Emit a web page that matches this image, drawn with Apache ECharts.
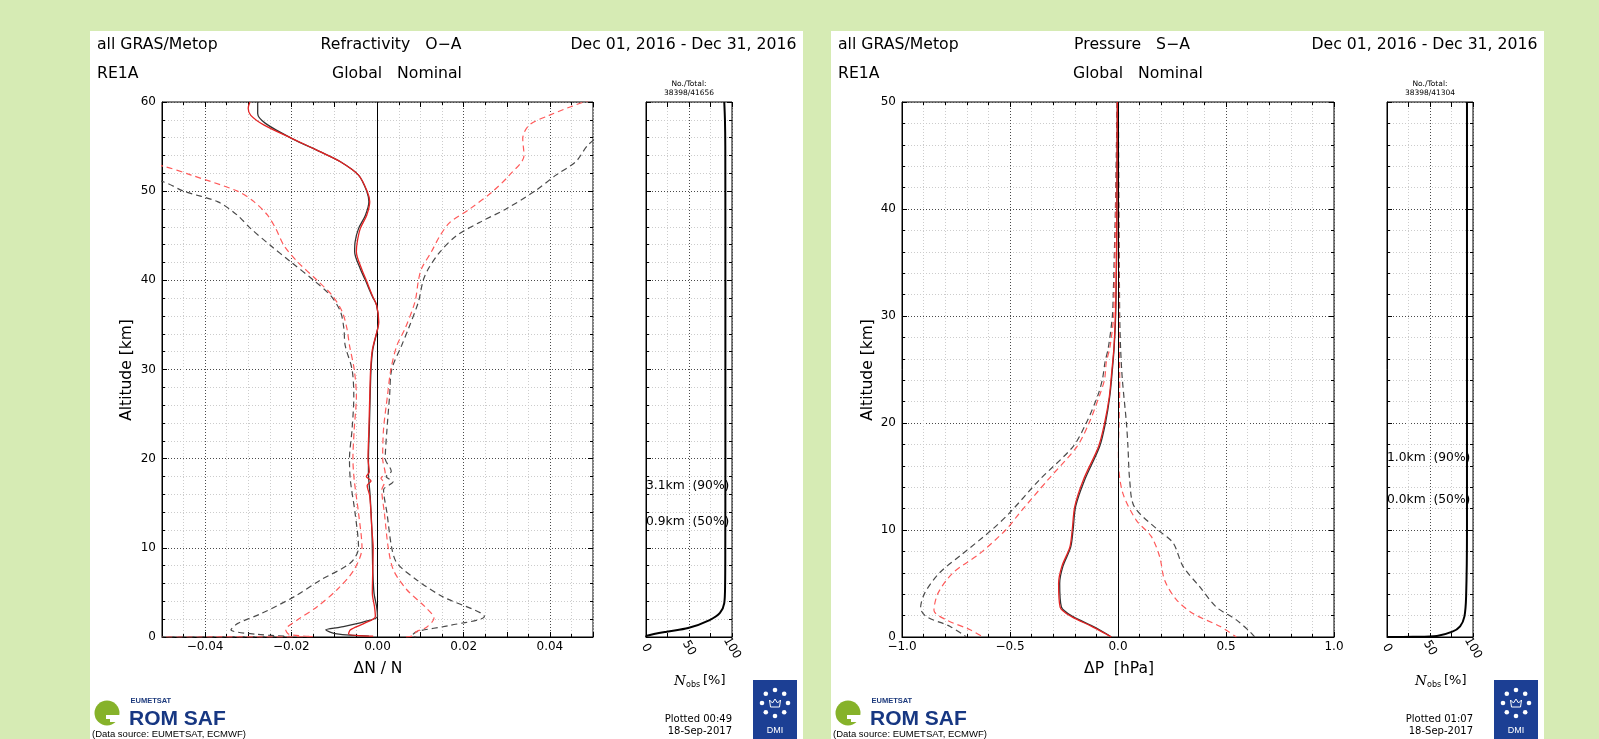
<!DOCTYPE html>
<html><head><meta charset="utf-8">
<script src="https://cdn.jsdelivr.net/npm/echarts@6.0.0/dist/echarts.min.js"></script>
<style>
html,body{margin:0;padding:0;background:#d6ebb4;width:1599px;height:739px;overflow:hidden;}
.panel{position:absolute;top:31px;height:708px;background:#fff;}
#chart{position:absolute;left:0;top:0;width:1599px;height:739px;}
</style></head><body>
<div class="panel" style="left:90px;width:713px"></div>
<div class="panel" style="left:831px;width:713px"></div>
<div id="chart"></div>
<script>
// ===== Refractivity O−A (left panel): altitude [km] vs ΔN/N =====
const refBlkMeanAlt = [60,58.7,57.6,55.9,54.4,53.3,51.8,50,48.8,47.3,45.8,44.3,43.2,41.3,40,38.3,37.2,35.3,34.5,32.2,30,27,23.3,20,18.4,15.8,12,10,7.5,4.9,3.4,2.3,1.7,1.1,0.8,0.35,0.1];
const refBlkMean    = [-0.0278,-0.0278,-0.026,-0.0198,-0.0132,-0.0086,-0.0044,-0.0025,-0.002,-0.0028,-0.0044,-0.0052,-0.0053,-0.004,-0.0028,-0.0013,-0.0002,0.0002,0,-0.0011,-0.0015,-0.0017,-0.0019,-0.0021,-0.0021,-0.0017,-0.0013,-0.0012,-0.0011,-0.0008,-0.0002,0,-0.0032,-0.0086,-0.012,-0.0094,-0.002];
const refRedMeanAlt = [60,59.3,58.5,57.4,55.9,54.4,53.3,51.8,50,48.8,47.3,45.8,44.3,43.2,41.3,40,38.3,37.2,35.3,34.5,32.2,30,27,23.3,20,18.5,18,17.5,17,15.8,12,10,7.5,4.9,3.4,2.3,1.5,0.8,0.35,0.1];
const refRedMean    = [-0.0296,-0.030,-0.0294,-0.0263,-0.0198,-0.0132,-0.0086,-0.0044,-0.0024,-0.0018,-0.0025,-0.004,-0.0047,-0.0049,-0.0037,-0.0026,-0.0012,-0.0002,0.0003,0,-0.0012,-0.0016,-0.0018,-0.002,-0.0022,-0.0019,-0.0026,-0.0015,-0.0024,-0.0018,-0.0013,-0.001,-0.0011,-0.0012,-0.0007,-0.0005,-0.0032,-0.0063,-0.0067,-0.001];
const refBlkLoAlt = [52.5,51,50,48.8,47.3,45.8,43.9,42.1,40,38.3,36.5,34.6,32.7,30,27,23.3,20,17.6,13.9,10,8.3,6.4,4.5,2.6,1.5,0.8,0.3,0.05,0];
const refBlkLo    = [-0.062,-0.0494,-0.045,-0.037,-0.0325,-0.0294,-0.0248,-0.0202,-0.0148,-0.0109,-0.0086,-0.0078,-0.0075,-0.0059,-0.0055,-0.0059,-0.0065,-0.0063,-0.0052,-0.0044,-0.0063,-0.0132,-0.0194,-0.0271,-0.0325,-0.034,-0.028,-0.02,-0.05];
const refRedLoAlt = [53.5,52.8,51.8,50,48.8,47.3,45.8,43.9,42.1,40,38.3,36.5,34.6,32.7,30,27,23.3,20,17.6,13.9,10,7.5,5.3,3.4,1.9,0.8,0.3,0.05,0];
const refRedLo    = [-0.058,-0.0497,-0.0432,-0.0325,-0.0286,-0.0255,-0.0236,-0.0217,-0.0186,-0.014,-0.0105,-0.0082,-0.0071,-0.0065,-0.0054,-0.0049,-0.0054,-0.0057,-0.0054,-0.0044,-0.0036,-0.0055,-0.0094,-0.014,-0.0186,-0.0213,-0.0205,-0.015,-0.05];
const refRedHiAlt = [60.5,60,58.5,57.4,55.9,54,51.8,50,48,46.5,45,43.2,41.3,40,37.6,34.6,32.7,30,27,23.3,20,18.3,17.8,17.3,16.5,13.9,10,7.5,5.3,3.4,2.1,1.1,0.6,0.1,0];
const refRedHi    = [0.052,0.0479,0.0398,0.0352,0.0337,0.034,0.0306,0.0268,0.0214,0.0168,0.0145,0.0125,0.0102,0.0095,0.0087,0.0064,0.0045,0.0031,0.0023,0.0014,0.0012,0.0018,0.0008,0.0016,0.001,0.0016,0.0025,0.0037,0.0068,0.011,0.0131,0.0114,0.009,0.008,0.006];
const refBlkHiAlt = [56.5,55.1,53.3,51.8,50,48,46.5,45,43.2,41.3,40,37.6,34.6,32.7,30,27,23.3,20,18.6,18,17.4,16.5,13.9,10,8.3,6.4,4.5,2.3,1.3,0.6,0.1,0];
const refBlkHi    = [0.052,0.0487,0.046,0.0414,0.0365,0.0298,0.0237,0.0183,0.0145,0.0118,0.0106,0.0095,0.0072,0.0056,0.0033,0.0028,0.0022,0.0018,0.0032,0.002,0.0036,0.0014,0.0022,0.0033,0.0045,0.0091,0.0152,0.0248,0.0168,0.0091,0.008,0.009];
const nobsRefAlt = [60,58,55,40,20,10,6,3.8,2.7,1.9,1,0.6,0.15,0];
const nobsRef    = [91,91.8,92.2,92.3,92.3,92.2,92,91,86,74,49,24,1,0];

// ===== Pressure S−A (right panel): altitude [km] vs ΔP [hPa] =====
const presMeanAlt = [50,45,40,35,30,27,25,22.5,20,17.8,14.7,12.2,10,8.4,6.6,5,2.8,1.9,1,0.3,0];
const presBlkMean = [-0.003,-0.004,-0.005,-0.007,-0.011,-0.018,-0.026,-0.038,-0.058,-0.085,-0.154,-0.196,-0.208,-0.219,-0.255,-0.27,-0.262,-0.208,-0.116,-0.054,-0.031];
const presRedMean = [-0.003,-0.004,-0.005,-0.007,-0.012,-0.019,-0.028,-0.04,-0.062,-0.09,-0.16,-0.2,-0.212,-0.223,-0.26,-0.275,-0.268,-0.215,-0.122,-0.058,-0.031];
const presBlkLoAlt = [50,45,40,35,32,30,27,25.7,24.1,22.6,20,17.8,14.7,11.6,10,7.8,6,4.1,2.7,1.9,1,0];
const presBlkLo    = [-0.004,-0.008,-0.012,-0.018,-0.022,-0.026,-0.045,-0.06,-0.072,-0.093,-0.147,-0.208,-0.363,-0.502,-0.585,-0.718,-0.826,-0.895,-0.914,-0.887,-0.779,-0.702];
const presRedLoAlt = [50,45,40,35,32,30,27,25.7,24.1,22.6,20,17.8,14.7,11.6,10,7.8,6,4.1,2.5,1.6,0.7,0];
const presRedLo    = [-0.003,-0.006,-0.01,-0.015,-0.018,-0.02,-0.038,-0.054,-0.062,-0.085,-0.134,-0.19,-0.324,-0.455,-0.52,-0.64,-0.764,-0.833,-0.852,-0.795,-0.687,-0.625];
const presBlkHiAlt = [50,45,40,35,30,27,24.1,20,17.8,14.7,12.2,10,8.8,6.6,4.7,2.8,1.6,0.5,0];
const presBlkHi    = [0.002,0.003,0.004,0.006,0.008,0.012,0.02,0.039,0.046,0.054,0.075,0.185,0.255,0.301,0.378,0.455,0.548,0.61,0.633];
const presRedHiAlt = [50,45,40,35,30,27,24.1,20,17.8,16,13.4,10.9,9.4,7.5,5.3,3.5,2.2,1,0];
const presRedHi    = [0.001,0.002,0.003,0.004,0.005,0.006,0.008,0.005,0.002,0.003,0.023,0.085,0.154,0.193,0.216,0.27,0.347,0.471,0.548];
const nobsPresAlt = [50,10,3.8,1.9,1,0.5,0.1,0.02,0];
const nobsPres    = [93,93,92,90,85,76,58,30,0];

// ===== Texts =====
const panelTexts = [
  {left:'all GRAS/Metop', sub:'RE1A', title:'Refractivity   O\u2212A', region:'Global   Nominal', date:'Dec 01, 2016 - Dec 31, 2016',
   count:'38398/41656', xname:'\u0394N / N', p90:'3.1km  (90%)', p50:'0.9km  (50%)', plotted:'Plotted 00:49', pdate:'18-Sep-2017'},
  {left:'all GRAS/Metop', sub:'RE1A', title:'Pressure   S\u2212A', region:'Global   Nominal', date:'Dec 01, 2016 - Dec 31, 2016',
   count:'38398/41304', xname:'\u0394P  [hPa]', p90:'1.0km  (90%)', p50:'0.0km  (50%)', plotted:'Plotted 01:07', pdate:'18-Sep-2017'}
];

const C_BLK_MEAN = '#333333', C_RED_MEAN = '#e52222', C_BLK_DASH = '#4a4a4a', C_RED_DASH = '#ff5a5a';
const MAJ = '#4a4a4a', MIN = '#cccccc';
const TICKFONT = 'DejaVu Sans', TXTFONT = 'DejaVu Sans', LOGOFONT = 'Liberation Sans';

function prof(xi, vals, alts, color, width, dash, z) {
  return {type:'line', xAxisIndex:xi, yAxisIndex:xi, data: vals.map((v,i)=>[v, alts[i]]),
    symbol:'none', smooth:0.3, clip:true, silent:true, z:z,
    lineStyle:{color:color, width:width, type: dash ? [6,4] : 'solid'}};
}
const fmtMinus = (v, d) => (v < -1e-9 ? '\u2212' : '') + Math.abs(v).toFixed(d);
const TICK = {show:true, inside:true, length:5, lineStyle:{color:'#000'}};

function yAx(gi, max, labels) {
  return {type:'value', gridIndex:gi, position:'left', min:0, max:max, interval:10,
    axisLine:{show:true, onZero:false, lineStyle:{color:'#000', width:1}},
    axisTick:TICK,
    minorTick:{show:true, splitNumber:5, length:3, lineStyle:{color:'#000'}},
    axisLabel:{show:labels, color:'#000', fontFamily:TICKFONT, fontSize:12, margin:6},
    splitLine:{show:true, lineStyle:{color:MAJ, type:[1,2], width:1}},
    minorSplitLine:{show:true, lineStyle:{color:MIN, type:[1,2], width:1}}};
}
function yRight(gi, max) {
  return {type:'value', gridIndex:gi, position:'right', min:0, max:max, interval:10,
    axisLine:{show:false, onZero:false}, axisTick:TICK,
    minorTick:{show:true, splitNumber:5, length:3, lineStyle:{color:'#000'}},
    axisLabel:{show:false}, splitLine:{show:false}, minorSplitLine:{show:false}};
}
function xAxMain(gi, min, max, interval, minorN, formatter, colors) {
  return {type:'value', gridIndex:gi, position:'bottom', min:min, max:max, interval:interval,
    axisLine:{show:true, onZero:false, lineStyle:{color:'#000', width:1}},
    axisTick:TICK,
    minorTick:{show:true, splitNumber:minorN, length:3, lineStyle:{color:'#000'}},
    axisLabel:{show:true, color:'#000', fontFamily:TICKFONT, fontSize:12, margin:4, formatter:formatter, showMinLabel:true, showMaxLabel:true},
    splitLine:{show:true, showMinLine:true, showMaxLine:true, lineStyle:{color:colors, type:[1,2], width:1}},
    minorSplitLine:{show:true, lineStyle:{color:MIN, type:[1,2], width:1}}};
}
function xTop(gi, min, max, interval, minorN) {
  return {type:'value', gridIndex:gi, position:'top', min:min, max:max, interval:interval,
    axisLine:{show:false, onZero:false}, axisTick:TICK,
    minorTick:{show:minorN > 0, splitNumber:minorN || 5, length:3, lineStyle:{color:'#000'}},
    axisLabel:{show:false}, splitLine:{show:false}, minorSplitLine:{show:false}};
}
function xAxNobs(gi) {
  return {type:'value', gridIndex:gi, position:'bottom', min:0, max:100, interval:25,
    axisLine:{show:true, onZero:false, lineStyle:{color:'#000', width:1}},
    axisTick:{show:true, inside:true, length:4, lineStyle:{color:'#000'}},
    axisLabel:{show:true, color:'#000', fontFamily:TICKFONT, fontSize:12, margin:11, rotate:-60,
      align:'center', verticalAlign:'middle', formatter: v => (v % 50 === 0 ? String(v) : '')},
    splitLine:{show:true, showMinLine:true, showMaxLine:true, lineStyle:{color:[MAJ, MIN], type:[1,2], width:1}}};
}

const grids = [
  {left:162, top:102, width:431, height:535},
  {left:646, top:102, width:86, height:535},
  {left:902, top:102, width:432, height:535},
  {left:1387, top:102, width:86, height:535}
].map(g => Object.assign(g, {show:true, borderColor:'#000', borderWidth:1, backgroundColor:'transparent', containLabel:false}));

const xAxes = [
  xAxMain(0, -0.05, 0.05, 0.01, 2, v => (Math.round(v*1000) % 20 === 0 ? fmtMinus(v, 2) : ''), [MIN, MAJ]),
  xAxNobs(1),
  xAxMain(2, -1, 1, 0.5, 5, v => fmtMinus(v, 1), MAJ),
  xAxNobs(3),
  xTop(0, -0.05, 0.05, 0.01, 2),
  xTop(1, 0, 100, 25, 0),
  xTop(2, -1, 1, 0.5, 5),
  xTop(3, 0, 100, 25, 0)
];
const yAxes = [yAx(0, 60, true), yAx(1, 60, false), yAx(2, 50, true), yAx(3, 50, false),
  yRight(0, 60), yRight(1, 60), yRight(2, 50), yRight(3, 50)];

const zeroLine = {silent:true, symbol:['none','none'], animation:false, label:{show:false},
  lineStyle:{color:'#000', width:1, type:'solid'}, data:[{xAxis:0}]};

const series = [
  prof(0, refBlkLo, refBlkLoAlt, C_BLK_DASH, 1.2, true, 3),
  prof(0, refBlkHi, refBlkHiAlt, C_BLK_DASH, 1.2, true, 3),
  prof(0, refRedLo, refRedLoAlt, C_RED_DASH, 1.2, true, 4),
  prof(0, refRedHi, refRedHiAlt, C_RED_DASH, 1.2, true, 4),
  Object.assign(prof(0, refBlkMean, refBlkMeanAlt, C_BLK_MEAN, 1.3, false, 5), {markLine: zeroLine}),
  prof(0, refRedMean, refRedMeanAlt, C_RED_MEAN, 1.3, false, 6),
  prof(1, nobsRef, nobsRefAlt, '#000', 2, false, 5),
  prof(2, presBlkLo, presBlkLoAlt, C_BLK_DASH, 1.2, true, 3),
  prof(2, presBlkHi, presBlkHiAlt, C_BLK_DASH, 1.2, true, 3),
  prof(2, presRedLo, presRedLoAlt, C_RED_DASH, 1.2, true, 4),
  prof(2, presRedHi, presRedHiAlt, C_RED_DASH, 1.2, true, 4),
  Object.assign(prof(2, presBlkMean, presMeanAlt, C_BLK_MEAN, 1.3, false, 5), {markLine: zeroLine}),
  prof(2, presRedMean, presMeanAlt, C_RED_MEAN, 1.3, false, 6),
  prof(3, nobsPres, nobsPresAlt, '#000', 2, false, 5)
];

function txt(text, x, y, size, align, opts) {
  return Object.assign({type:'text', x:x, y:y, z:100, silent:true,
    style:Object.assign({text:text, x:0, y:0, fill:'#000', fontSize:size, fontFamily:TXTFONT,
      align:align, textAlign:align, verticalAlign:'middle', textVerticalAlign:'middle'}, (opts && opts.style) || {})},
    (opts && opts.el) || {});
}

const graphics = [];
panelTexts.forEach((t, p) => {
  const o = p * 741;
  graphics.push(txt(t.left, 97 + o, 45, 15.7, 'left'));
  graphics.push(txt(t.sub, 97 + o, 73.5, 15.7, 'left'));
  graphics.push(txt(t.title, 391 + o, 45, 15.7, 'center'));
  graphics.push(txt(t.region, 397 + o, 73.5, 15.7, 'center'));
  graphics.push(txt(t.date, 796.5 + o, 45, 15.7, 'right'));
  graphics.push(txt('No./Total:', 689 + o, 84, 7.5, 'center'));
  graphics.push(txt(t.count, 689 + o, 93, 7.5, 'center'));
  graphics.push(txt('Altitude [km]', 127 + o, 370, 15.5, 'center', {el:{rotation:Math.PI/2}}));
  graphics.push(txt(t.xname, 378 + o, 669, 15.5, 'center'));
  // N_obs [%]
  graphics.push(txt('N', 674 + o, 681, 13.5, 'left', {style:{fontFamily:'DejaVu Serif', fontStyle:'italic'}}));
  graphics.push(txt('obs', 686 + o, 685, 8, 'left'));
  graphics.push(txt('[%]', 703 + o, 681, 13, 'left'));
  graphics.push(txt(t.p90, 646 + o, 486 - (p ? 28 : 0), 12.3, 'left'));
  graphics.push(txt(t.p50, 646 + o, 522 - (p ? 22 : 0), 12.3, 'left'));
  graphics.push(txt(t.plotted, 732 + o, 719, 10, 'right'));
  graphics.push(txt(t.pdate, 732 + o, 731, 10, 'right'));
  // ROM SAF logo
  graphics.push({type:'circle', z:100, silent:true, shape:{cx:107 + o, cy:713, r:12.5}, style:{fill:'#86b22a'}});
  graphics.push({type:'rect', z:101, silent:true, shape:{x:106 + o, y:715, width:16, height:4}, style:{fill:'#fff'}});
  graphics.push({type:'rect', z:101, silent:true, shape:{x:110 + o, y:719, width:12, height:3}, style:{fill:'#fff'}});
  graphics.push(txt('EUMETSAT', 130.5 + o, 701, 7.5, 'left', {style:{fontFamily:LOGOFONT, fontWeight:'bold', fill:'#1d3a7c'}}));
  graphics.push(txt('ROM SAF', 129 + o, 719, 21, 'left', {style:{fontFamily:LOGOFONT, fontWeight:'bold', fill:'#173782'}}));
  graphics.push(txt('(Data source: EUMETSAT, ECMWF)', 92 + o, 734, 9.5, 'left', {style:{fontFamily:LOGOFONT}}));
  // DMI logo
  graphics.push({type:'rect', z:100, silent:true, shape:{x:753 + o, y:680, width:44, height:59}, style:{fill:'#1c3f94'}});
  for (let k = 0; k < 8; k++) {
    const a = k * Math.PI / 4;
    graphics.push({type:'circle', z:101, silent:true, shape:{cx:775 + o + 13*Math.cos(a), cy:703 + 13*Math.sin(a), r:2.3}, style:{fill:'#fff'}});
  }
  graphics.push({type:'polygon', z:101, silent:true, shape:{points:[[770.5+o,707],[769.5+o,700],[772.5+o,703],[775+o,699],[777.5+o,703],[780.5+o,700],[779.5+o,707]]}, style:{fill:'none', stroke:'#fff', lineWidth:1}});
  graphics.push(txt('DMI', 775 + o, 731, 9, 'center', {style:{fontFamily:LOGOFONT, fill:'#fff'}}));
});

const chart = echarts.init(document.getElementById('chart'), null, {renderer:'canvas'});
chart.setOption({
  animation:false,
  backgroundColor:'transparent',
  grid: grids,
  xAxis: xAxes,
  yAxis: yAxes,
  series: series,
  graphic: {elements: graphics}
});
</script></body></html>
